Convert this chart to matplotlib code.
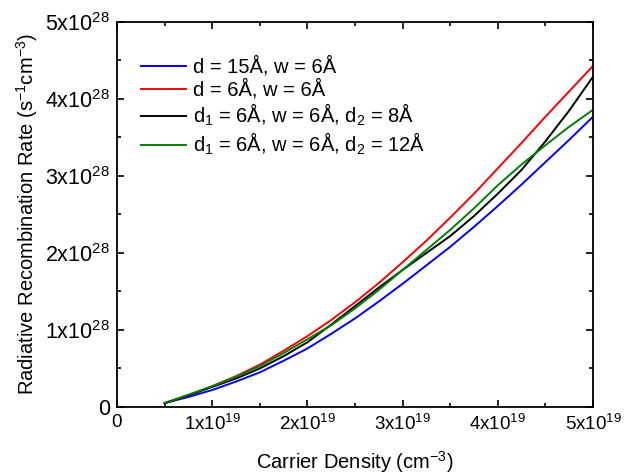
import matplotlib
matplotlib.use("Agg")
import matplotlib.pyplot as plt
from matplotlib.ticker import MultipleLocator, FuncFormatter

plt.rcParams['font.family'] = ['Liberation Sans', 'DejaVu Sans']
plt.rcParams['mathtext.fontset'] = 'custom'
plt.rcParams['mathtext.rm'] = 'Liberation Sans'
plt.rcParams['mathtext.it'] = 'Liberation Sans:italic'
plt.rcParams['mathtext.bf'] = 'Liberation Sans:bold'

# carrier density in 1e19 cm^-3, rate in 1e28 s^-1 cm^-3
density = [0.5, 0.75, 1.0, 1.25, 1.5, 1.75, 2.0, 2.25, 2.5, 2.75,
           3.0, 3.25, 3.5, 3.75, 4.0, 4.25, 4.5, 4.75, 5.0]
rate_d15 = [0.05, 0.13, 0.22, 0.33, 0.45, 0.60, 0.76, 0.95, 1.15, 1.37,
            1.60, 1.84, 2.08, 2.34, 2.61, 2.89, 3.18, 3.47, 3.77]
rate_d6 = [0.05, 0.15, 0.27, 0.40, 0.55, 0.73, 0.92, 1.13, 1.36, 1.61,
           1.88, 2.16, 2.46, 2.77, 3.10, 3.43, 3.77, 4.10, 4.43]
rate_d2_8 = [0.05, 0.15, 0.26, 0.37, 0.50, 0.66, 0.84, 1.07, 1.31, 1.55,
             1.78, 2.00, 2.22, 2.48, 2.77, 3.08, 3.45, 3.85, 4.29]
rate_d2_12 = [0.05, 0.16, 0.27, 0.39, 0.53, 0.70, 0.88, 1.06, 1.28, 1.52,
              1.78, 2.04, 2.30, 2.58, 2.88, 3.15, 3.40, 3.64, 3.86]

labels = [r'd = 15Å, w = 6Å',
          r'd = 6Å, w = 6Å',
          r'd$_1$ = 6Å, w = 6Å, d$_2$ = 8Å',
          r'd$_1$ = 6Å, w = 6Å, d$_2$ = 12Å']
colors = ['#0000ff', '#ff0000', '#000000', '#008000']

fig = plt.figure(figsize=(6.27, 4.74), dpi=100)
ax = fig.add_axes([0.1866, 0.1414, 0.7592, 0.8122])

for ys, c, lab in zip([rate_d15, rate_d6, rate_d2_8, rate_d2_12], colors, labels):
    ax.plot(density, ys, color=c, lw=1.4, label=lab)

ax.set_xlim(0, 5)
ax.set_ylim(0, 5)
ax.xaxis.set_major_locator(MultipleLocator(1))
ax.xaxis.set_minor_locator(MultipleLocator(0.5))
ax.yaxis.set_major_locator(MultipleLocator(1))
ax.yaxis.set_minor_locator(MultipleLocator(0.5))

def fmt(exp):
    def f(v, pos):
        if abs(v) < 1e-9:
            return '0'
        return '%dx10$^{%d}$' % (round(v), exp)
    return f

ax.xaxis.set_major_formatter(FuncFormatter(fmt(19)))
ax.yaxis.set_major_formatter(FuncFormatter(fmt(28)))

ax.tick_params(which='both', direction='in', top=True, right=True, width=1.2)
ax.tick_params(which='major', length=5, pad=5)
ax.tick_params(axis='x', which='major', labelsize=13.5)
ax.tick_params(axis='y', which='major', labelsize=15.5)
ax.tick_params(which='minor', length=3)
for s in ax.spines.values():
    s.set_linewidth(1.3)

ax.set_xlabel('Carrier Density (cm$^{-3}$)', fontsize=14.5, labelpad=11)
ax.set_ylabel('Radiative Recombination Rate (s$^{-1}$cm$^{-3}$)', fontsize=14.5, labelpad=4)

ax.legend(loc='upper left', bbox_to_anchor=(0.034, 0.932), frameon=False, fontsize=14.5,
          handlelength=2.2, handletextpad=0.35, labelspacing=0.12, borderaxespad=0)

fig.savefig('out.png', dpi=100)
